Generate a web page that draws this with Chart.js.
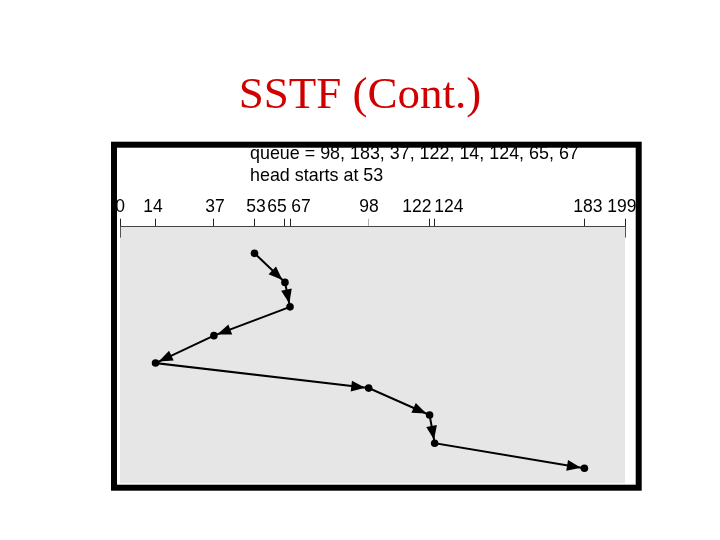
<!DOCTYPE html>
<html>
<head>
<meta charset="utf-8">
<script src="https://cdn.jsdelivr.net/npm/chart.js@4.4.1/dist/chart.umd.min.js"></script>
<style>
html,body{margin:0;padding:0;background:#ffffff;}
#wrap{position:relative;width:720px;height:540px;}
</style>
</head>
<body>
<div id="wrap"><canvas id="c" width="720" height="540"></canvas></div>
<script>
// ---- data ----
const titleText = 'SSTF (Cont.)';
const headerLines = ['queue = 98, 183, 37, 122, 14, 124, 65, 67', 'head starts at 53'];
const cylinderTicks = [0, 14, 37, 53, 65, 67, 98, 122, 124, 183, 199];
const tickLabels = ['0', '14', '37', '53', '65', '67', '98', '122', '124', '183', '199'];
const tickLabelAt = [0, 13.0, 37.4, 53.6, 61.9, 71.3, 98.1, 117.0, 129.6, 184.4, 197.8];
const serviceOrder = [53, 65, 67, 37, 14, 98, 122, 124, 183];
const serviceStep = [0, 1.08, 1.99, 3.06, 4.08, 5.01, 6.01, 7.06, 7.99];

const points = serviceOrder.map((c, i) => ({x: c, y: serviceStep[i]}));

const bgPlugin = {
  id: 'bgPlugin',
  beforeDraw(chart) {
    const {ctx, chartArea: a} = chart;
    ctx.save();
    ctx.fillStyle = '#e6e6e6';
    ctx.fillRect(a.left, a.top, a.right - a.left, a.bottom - a.top);
    ctx.restore();
  }
};

const arrowPlugin = {
  id: 'arrowPlugin',
  afterDatasetsDraw(chart) {
    const {ctx} = chart;
    const meta = chart.getDatasetMeta(0);
    ctx.save();
    ctx.fillStyle = '#000';
    for (let i = 1; i < meta.data.length; i++) {
      const p0 = meta.data[i - 1], p1 = meta.data[i];
      const dx = p1.x - p0.x, dy = p1.y - p0.y;
      const len = Math.hypot(dx, dy);
      const ux = dx / len, uy = dy / len;
      const tipX = p1.x - ux * 3.5, tipY = p1.y - uy * 3.5;
      const bx = tipX - ux * 14, by = tipY - uy * 14;
      const hw = 5.4;
      ctx.beginPath();
      ctx.moveTo(tipX, tipY);
      ctx.lineTo(bx - uy * hw, by + ux * hw);
      ctx.lineTo(bx + uy * hw, by - ux * hw);
      ctx.closePath();
      ctx.fill();
    }
    ctx.restore();
  }
};

const decoPlugin = {
  id: 'decoPlugin',
  afterDraw(chart) {
    const {ctx, chartArea: a} = chart;
    const xs = chart.scales.x;
    ctx.save();
    // end ticks reaching into the plot
    ctx.strokeStyle = '#555';
    ctx.lineWidth = 1;
    [cylinderTicks[0], cylinderTicks[cylinderTicks.length - 1]].forEach(v => {
      const px = Math.round(xs.getPixelForValue(v)) + 0.5;
      ctx.beginPath();
      ctx.moveTo(px, a.top);
      ctx.lineTo(px, a.top + 11);
      ctx.stroke();
    });
    // header text
    ctx.fillStyle = '#000';
    ctx.font = '17.9px "Liberation Sans", Arial, sans-serif';
    ctx.textBaseline = 'alphabetic';
    ctx.textAlign = 'left';
    ctx.fillText(headerLines[0], 250, 159);
    ctx.fillText(headerLines[1], 250, 181);
    // black frame
    ctx.strokeStyle = '#000';
    ctx.lineWidth = 6;
    ctx.strokeRect(114, 144.7, 524.7, 343);
    ctx.restore();
  }
};

new Chart(document.getElementById('c'), {
  type: 'scatter',
  data: {
    datasets: [{
      data: points,
      showLine: true,
      borderColor: '#000',
      borderWidth: 2,
      backgroundColor: '#000',
      pointRadius: 3.8,
      pointBorderWidth: 0,
      pointBackgroundColor: '#000',
      xAxisID: 'x',
      yAxisID: 'y'
    }]
  },
  options: {
    responsive: false,
    animation: false,
    devicePixelRatio: 1,
    layout: {padding: {top: 0, left: 0, right: 0, bottom: 56.7}},
    plugins: {
      legend: {display: false},
      tooltip: {enabled: false},
      title: {
        display: true,
        text: titleText,
        color: '#d10000',
        font: {family: '"Liberation Serif", "Times New Roman", serif', size: 45, weight: 'normal', lineHeight: 1.2},
        padding: {top: 69, bottom: 65.7}
      }
    },
    scales: {
      x: {
        type: 'linear',
        position: 'top',
        weight: 0,
        min: 0,
        max: 199,
        afterBuildTicks(scale) { scale.ticks = cylinderTicks.map(v => ({value: v})); },
        afterFit(scale) { scale.height = 8; },
        ticks: {display: false, autoSkip: false},
        grid: {
          drawOnChartArea: false,
          drawTicks: true,
          tickLength: 8,
          lineWidth: 1,
          color: (c) => (c.tick && c.tick.value === 98) ? '#b0b0b0' : '#222'
        },
        border: {display: true, color: '#444', width: 1}
      },
      x2: {
        type: 'linear',
        position: 'top',
        weight: 1,
        min: 0,
        max: 199,
        afterBuildTicks(scale) { scale.ticks = tickLabelAt.map(v => ({value: v})); },
        afterFit(scale) { scale.height = 30; },
        ticks: {
          autoSkip: false,
          maxRotation: 0,
          minRotation: 0,
          padding: 1,
          color: '#000',
          font: {family: '"Liberation Sans", Arial, sans-serif', size: 17.5, lineHeight: 1.2},
          callback: (v, i) => tickLabels[i]
        },
        grid: {display: false, drawTicks: false},
        border: {display: false}
      },
      y: {
        type: 'linear',
        position: 'left',
        reverse: true,
        min: -0.99,
        max: 8.55,
        afterFit(scale) { scale.width = 120; },
        ticks: {display: false},
        grid: {display: false, drawTicks: false},
        border: {display: false}
      },
      yR: {
        type: 'linear',
        position: 'right',
        afterFit(scale) { scale.width = 95; },
        ticks: {display: false},
        grid: {display: false, drawTicks: false},
        border: {display: false}
      }
    }
  },
  plugins: [bgPlugin, arrowPlugin, decoPlugin]
});
</script>
</body>
</html>
